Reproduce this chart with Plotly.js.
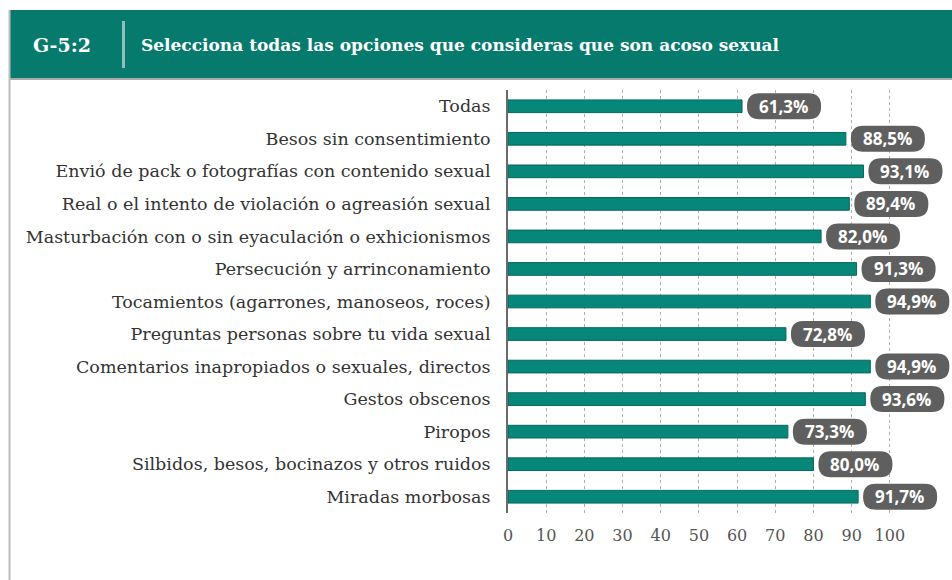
<!DOCTYPE html>
<html>
<head>
<meta charset="utf-8">
<script src="https://cdn.plot.ly/plotly-3.0.1.min.js"></script>
<style>html,body{margin:0;padding:0;background:#fff;overflow:hidden;}#chart{width:952px;height:580px;}</style>
</head>
<body>
<div id="chart"></div>
<script>
// ---- data ----
const categories = [
  "Todas",
  "Besos sin consentimiento",
  "Envió de pack o fotografías con contenido sexual",
  "Real o el intento de violación o agreasión sexual",
  "Masturbación con o sin eyaculación o exhicionismos",
  "Persecución y arrinconamiento",
  "Tocamientos (agarrones, manoseos, roces)",
  "Preguntas personas sobre tu vida sexual",
  "Comentarios inapropiados o sexuales, directos",
  "Gestos obscenos",
  "Piropos",
  "Silbidos, besos, bocinazos y otros ruidos",
  "Miradas morbosas"
];
const values = [61.3, 88.5, 93.1, 89.4, 82.0, 91.3, 94.9, 72.8, 94.9, 93.6, 73.3, 80.0, 91.7];
const valueLabels = ["61,3%", "88,5%", "93,1%", "89,4%", "82,0%", "91,3%", "94,9%", "72,8%", "94,9%", "93,6%", "73,3%", "80,0%", "91,7%"];
const tickVals = [0, 10, 20, 30, 40, 50, 60, 70, 80, 90, 100];
const chartCode = "G-5:2";
const chartTitle = "Selecciona todas las opciones que consideras que son acoso sexual";

// ---- layout geometry ----
const W = 952, H = 580;
const M = {l: 508, r: 0, t: 90, b: 67, autoexpand: false};
const pw = W - M.l - M.r, ph = H - M.t - M.b;
const unitPx = 3.818;                      // pixels per percentage point
const xMax = pw / unitPx;
const px = x => (x - M.l) / pw;           // pixel -> paper x
const py = y => 1 - (y - M.t) / ph;       // pixel -> paper y

const serif = "DejaVu Serif, Liberation Serif, serif";
const labelFont = "Open Sans, Noto Sans, sans-serif";

// rounded label box (pixel path relative to anchor)
const gap = 5, bw = 74, bh = 26, rr = 12.5;
function pill() {
  const x0 = gap, x1 = gap + bw, y0 = -bh / 2, y1 = bh / 2;
  return `M ${x0 + rr},${y0} L ${x1 - rr},${y0} Q ${x1},${y0} ${x1},${y0 + rr} L ${x1},${y1 - rr} Q ${x1},${y1} ${x1 - rr},${y1} L ${x0 + rr},${y1} Q ${x0},${y1} ${x0},${y1 - rr} L ${x0},${y0 + rr} Q ${x0},${y0} ${x0 + rr},${y0} Z`;
}

const shapes = [
  // header band
  {type: 'rect', xref: 'paper', yref: 'paper', x0: px(10), x1: px(952), y0: py(10), y1: py(79),
   fillcolor: '#077a6e', line: {width: 0}, layer: 'above'},
  // header bottom border
  {type: 'line', xref: 'paper', yref: 'paper', x0: px(10), x1: px(952), y0: py(79), y1: py(79),
   line: {color: '#a9a9a9', width: 2}},
  // left frame border
  {type: 'line', xref: 'paper', yref: 'paper', x0: px(9.5), x1: px(9.5), y0: py(10), y1: py(580),
   line: {color: '#bdbdbd', width: 2}},
  // separator in header
  {type: 'line', xref: 'paper', yref: 'paper', x0: px(123.5), x1: px(123.5), y0: py(21), y1: py(68),
   line: {color: '#8cc0b8', width: 3}, layer: 'above'}
];

const annotations = [
  {xref: 'paper', yref: 'paper', x: px(31), y: py(45), xanchor: 'left', yanchor: 'middle',
   text: '<b>' + chartCode + '</b>', showarrow: false, font: {family: serif, size: 19, color: '#ffffff'}},
  {xref: 'paper', yref: 'paper', x: px(139), y: py(45), xanchor: 'left', yanchor: 'middle',
   text: '<b>' + chartTitle + '</b>', showarrow: false, font: {family: serif, size: 17, color: '#ffffff'}}
];

categories.forEach((c, i) => {
  shapes.push({type: 'path', xref: 'x', yref: 'y', xsizemode: 'pixel', ysizemode: 'pixel',
    xanchor: values[i], yanchor: c, path: pill(), fillcolor: '#5f5f5f', line: {width: 0}, layer: 'above'});
  annotations.push({xref: 'x', yref: 'y', x: values[i], y: c, xanchor: 'left', yanchor: 'middle',
    xshift: gap + 10, yshift: 0, text: '<b>' + valueLabels[i] + '</b>', showarrow: false,
    font: {family: labelFont, size: 17, color: '#ffffff'}});
});

const trace = {
  type: 'bar', orientation: 'h', y: categories, x: values, width: 0.39,
  marker: {color: '#07877a', line: {color: '#05675c', width: 1}},
  hoverinfo: 'skip'
};

const layout = {
  width: W, height: H, margin: M,
  paper_bgcolor: '#ffffff', plot_bgcolor: '#ffffff',
  showlegend: false,
  xaxis: {range: [0, xMax], tickvals: tickVals, ticktext: tickVals.map(String),
    showgrid: true, gridcolor: '#b0b0b0', griddash: '3px,3px', gridwidth: 1,
    zeroline: false, showline: false, ticks: 'outside', ticklen: 8, tickcolor: 'rgba(0,0,0,0)',
    tickfont: {family: serif, size: 16, color: '#555555'}, fixedrange: true},
  yaxis: {type: 'category', autorange: 'reversed', showgrid: false, zeroline: false,
    showline: true, linecolor: '#6a6a6a', linewidth: 2,
    ticks: 'outside', ticklen: 12, tickcolor: 'rgba(0,0,0,0)',
    tickfont: {family: serif, size: 17.5, color: '#333333'}, fixedrange: true},
  shapes: shapes, annotations: annotations
};

Plotly.newPlot('chart', [trace], layout, {displayModeBar: false, staticPlot: true});
</script>
</body>
</html>
